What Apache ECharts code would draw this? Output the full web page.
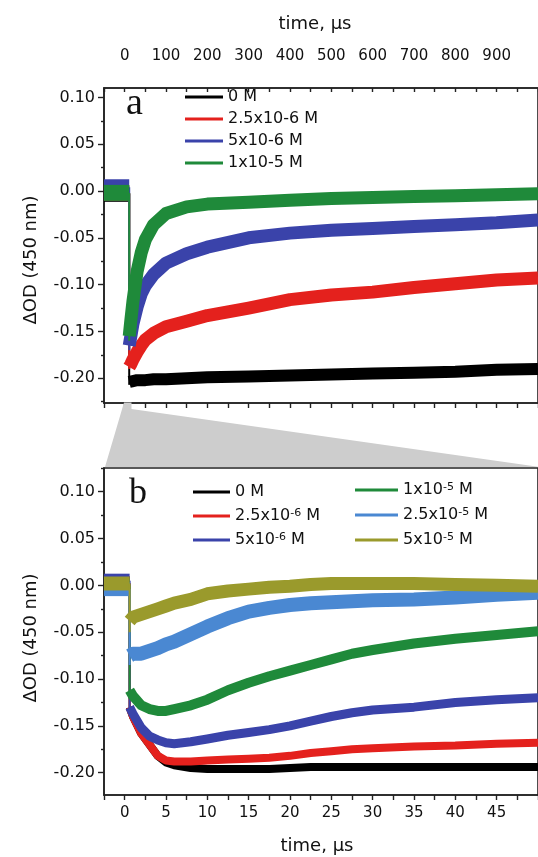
<!DOCTYPE html>
<html><head><meta charset="utf-8">
<script src="https://cdn.jsdelivr.net/npm/echarts@6/dist/echarts.min.js"></script>
<style>html,body{margin:0;padding:0;background:#fff}#c{width:538px;height:857px}</style>
</head><body><div id="c"></div>
<script>
// ---------- Panel a (0 – 1000 µs) ----------
const aNames = ['0 M', '2.5x10-6 M', '5x10-6 M', '1x10-5 M'];
const aTime = [11, 15, 20, 30, 40, 50, 70, 100, 150, 200, 300, 400, 500, 600, 700, 800, 900, 1000];
const aBlack = [-0.204, -0.204, -0.203, -0.202, -0.202, -0.202, -0.201, -0.201, -0.200, -0.199, -0.198, -0.197, -0.196, -0.195, -0.194, -0.193, -0.191, -0.190];
const aRed   = [-0.188, -0.185, -0.180, -0.172, -0.165, -0.159, -0.152, -0.145, -0.139, -0.133, -0.125, -0.116, -0.111, -0.108, -0.103, -0.099, -0.095, -0.093];
const aBlue  = [-0.165, -0.155, -0.142, -0.124, -0.110, -0.101, -0.089, -0.077, -0.067, -0.060, -0.050, -0.045, -0.042, -0.040, -0.038, -0.036, -0.034, -0.031];
const aGreen = [-0.155, -0.138, -0.118, -0.086, -0.066, -0.052, -0.036, -0.024, -0.017, -0.014, -0.012, -0.010, -0.008, -0.007, -0.006, -0.005, -0.004, -0.003];
const aPreTime = [-50, 11];
const aPreLevel = [-0.003, -0.002, 0.004, -0.002];
const aDropTime = 11;
const aDropBottom = [-0.207, -0.190, -0.170, -0.160];

// ---------- Panel b (0 – 50 µs) ----------
const bNames = ['0 M', '2.5x10-6 M', '5x10-6 M', '1x10-5 M', '2.5x10-5 M', '5x10-5 M'];
const bTime = [0.6, 1, 2, 3, 4, 5, 6, 8, 10, 12.5, 15, 17.5, 20, 22.5, 25, 27.5, 30, 35, 40, 45, 50];
const bBlack = [-0.130, -0.140, -0.158, -0.170, -0.182, -0.189, -0.192, -0.195, -0.196, -0.196, -0.196, -0.196, -0.195, -0.194, -0.194, -0.194, -0.194, -0.194, -0.194, -0.194, -0.194];
const bRed   = [-0.130, -0.140, -0.158, -0.170, -0.182, -0.187, -0.188, -0.188, -0.187, -0.186, -0.185, -0.184, -0.182, -0.179, -0.177, -0.175, -0.174, -0.172, -0.171, -0.169, -0.168];
const bBlue  = [-0.130, -0.137, -0.152, -0.161, -0.165, -0.168, -0.169, -0.167, -0.164, -0.160, -0.157, -0.154, -0.150, -0.145, -0.140, -0.136, -0.133, -0.130, -0.125, -0.122, -0.120];
const bGreen = [-0.112, -0.118, -0.128, -0.132, -0.134, -0.134, -0.132, -0.128, -0.122, -0.112, -0.104, -0.097, -0.091, -0.085, -0.079, -0.073, -0.069, -0.062, -0.057, -0.053, -0.049];
const bLtBlue = [-0.075, -0.073, -0.073, -0.070, -0.067, -0.063, -0.060, -0.052, -0.044, -0.035, -0.028, -0.024, -0.021, -0.019, -0.018, -0.017, -0.016, -0.015, -0.013, -0.010, -0.008];
const bOlive = [-0.038, -0.034, -0.031, -0.028, -0.025, -0.022, -0.019, -0.015, -0.009, -0.006, -0.004, -0.002, -0.001, 0.001, 0.002, 0.002, 0.002, 0.002, 0.001, 0.000, -0.001];
const bPreTime = [-2.5, 0.6];
const bPreLevel = [0.002, 0.002, 0.005, 0.000, -0.004, 0.002];
const bDropTime = 0.6;
const bDropBottom = [-0.130, -0.130, -0.135, -0.120, -0.085, -0.050];

// ---------- Ticks / labels ----------
const aXTicks = [-50, 0, 50, 100, 150, 200, 250, 300, 350, 400, 450, 500, 550, 600, 650, 700, 750, 800, 850, 900, 950, 1000];
const aXLabels = [0, 100, 200, 300, 400, 500, 600, 700, 800, 900];
const bXTicks = [-2.5, 0, 2.5, 5, 7.5, 10, 12.5, 15, 17.5, 20, 22.5, 25, 27.5, 30, 32.5, 35, 37.5, 40, 42.5, 45, 47.5, 50];
const bXLabels = [0, 5, 10, 15, 20, 25, 30, 35, 40, 45];
const yMajor = [-0.20, -0.15, -0.10, -0.05, 0.00, 0.05, 0.10];
const aYMinor = [-0.225, -0.175, -0.125, -0.075, -0.025, 0.025, 0.075];
const bYMinor = [-0.175, -0.125, -0.075, -0.025, 0.025, 0.075, 0.125];

// ---------- Styles ----------
const aColors = ['#000000', '#e4211d', '#3a43aa', '#1f8a3a'];
const aWidths = [12, 13, 13, 13];
const bColors = ['#000000', '#e4211d', '#3a43aa', '#1f8a3a', '#4a88d2', '#9a9a2c'];
const bWidths = [8, 8, 9, 10, 14, 13];
const FONT = 'DejaVu Sans';
const AX = '#222';

const aVals = [aBlack, aRed, aBlue, aGreen];
const bVals = [bBlack, bRed, bBlue, bGreen, bLtBlue, bOlive];

function lineSeries(name, data, color, width, xi, yi) {
  return {
    type: 'line', name: name, data: data, xAxisIndex: xi, yAxisIndex: yi,
    symbol: 'none', showSymbol: false, silent: true, animation: false,
    lineStyle: { color: color, width: width, join: 'round', cap: 'butt' },
    itemStyle: { color: color }, clip: true
  };
}

const series = [];
aNames.forEach((n, i) => {
  series.push(lineSeries(n, aPreTime.map(t => [t, aPreLevel[i]]), aColors[i], 16, 0, 0));
  series.push(lineSeries(n, [[aDropTime, aPreLevel[i]], [aDropTime, aDropBottom[i]]], aColors[i], 2, 0, 0));
  series.push(lineSeries(n, aTime.map((t, k) => [t, aVals[i][k]]), aColors[i], aWidths[i], 0, 0));
});
bNames.forEach((n, i) => {
  series.push(lineSeries(n, bPreTime.map(t => [t, bPreLevel[i]]), bColors[i], 14, 2, 2));
  series.push(lineSeries(n, [[bDropTime, bPreLevel[i]], [bDropTime, bDropBottom[i]]], bColors[i], 2, 2, 2));
  series.push(lineSeries(n, bTime.map((t, k) => [t, bVals[i][k]]), bColors[i], bWidths[i], 2, 2));
});

const labelStyleX = { color: '#111', fontFamily: FONT, fontSize: 15 };
const labelStyleY = { color: '#111', fontFamily: FONT, fontSize: 16, formatter: v => v.toFixed(2) };

function supFmt(name) { return name.replace(/x10(-\d)/, 'x10{sup|$1}'); }

const legendText = { fontFamily: FONT, fontSize: 16, color: '#111', lineHeight: 16,
  rich: { sup: { fontFamily: FONT, fontSize: 11, color: '#111', verticalAlign: 'top', lineHeight: 16 } } };

const axLine = { show: true, onZero: false, lineStyle: { color: AX, width: 1.6 } };
const noLine = { show: false, onZero: false };

const option = {
  backgroundColor: '#ffffff',
  animation: false,
  grid: [
    { left: 104, top: 88, width: 445, height: 315, show: true, borderColor: AX, borderWidth: 1.6, backgroundColor: 'transparent' },
    { left: 104, top: 468, width: 445, height: 327, show: true, borderColor: AX, borderWidth: 1.6, backgroundColor: 'transparent' }
  ],
  xAxis: [
    { type: 'value', gridIndex: 0, position: 'top', min: -50, max: 1000, axisLine: axLine,
      axisTick: { show: true, inside: true, length: 4, customValues: aXTicks, lineStyle: { color: AX, width: 1.4 } },
      axisLabel: { show: true, margin: 24, customValues: aXLabels, ...labelStyleX },
      splitLine: { show: false } },
    { type: 'value', gridIndex: 0, position: 'bottom', min: -50, max: 1000, axisLine: axLine,
      axisTick: { show: true, inside: false, length: 5, customValues: aXTicks, lineStyle: { color: AX, width: 1.4 } },
      axisLabel: { show: false }, splitLine: { show: false } },
    { type: 'value', gridIndex: 1, position: 'bottom', min: -2.5, max: 50, axisLine: axLine,
      axisTick: { show: true, inside: false, length: 5, customValues: bXTicks, lineStyle: { color: AX, width: 1.4 } },
      axisLabel: { show: true, margin: 11, customValues: bXLabels, ...labelStyleX },
      splitLine: { show: false } }
  ],
  yAxis: [
    { type: 'value', gridIndex: 0, position: 'left', min: -0.2264, max: 0.110, axisLine: axLine,
      axisTick: { show: true, inside: false, length: 6, customValues: yMajor, lineStyle: { color: AX, width: 1.4 } },
      axisLabel: { show: true, margin: 9, customValues: yMajor, ...labelStyleY },
      splitLine: { show: false } },
    { type: 'value', gridIndex: 0, position: 'left', min: -0.2264, max: 0.110, axisLine: noLine,
      axisTick: { show: true, inside: false, length: 3, customValues: aYMinor, lineStyle: { color: AX, width: 1.4 } },
      axisLabel: { show: false }, splitLine: { show: false } },
    { type: 'value', gridIndex: 1, position: 'left', min: -0.2238, max: 0.1253, axisLine: axLine,
      axisTick: { show: true, inside: false, length: 6, customValues: yMajor, lineStyle: { color: AX, width: 1.4 } },
      axisLabel: { show: true, margin: 9, customValues: yMajor, ...labelStyleY },
      splitLine: { show: false } },
    { type: 'value', gridIndex: 1, position: 'left', min: -0.2238, max: 0.1253, axisLine: noLine,
      axisTick: { show: true, inside: false, length: 3, customValues: bYMinor, lineStyle: { color: AX, width: 1.4 } },
      axisLabel: { show: false }, splitLine: { show: false } }
  ],
  legend: [
    { data: aNames, orient: 'vertical', left: 185, top: 89, padding: 0, itemGap: 6,
      itemWidth: 38, itemHeight: 3, icon: 'rect', selectedMode: false,
      itemStyle: { borderWidth: 0 }, textStyle: legendText },
    { data: bNames.slice(0, 3), orient: 'vertical', left: 193, top: 484, padding: 0, itemGap: 8,
      itemWidth: 37, itemHeight: 3, icon: 'rect', selectedMode: false, formatter: supFmt,
      itemStyle: { borderWidth: 0 }, textStyle: legendText },
    { data: bNames.slice(3), orient: 'vertical', left: 355, top: 482, padding: 0, itemGap: 9,
      itemWidth: 43, itemHeight: 3, icon: 'rect', selectedMode: false, formatter: supFmt,
      itemStyle: { borderWidth: 0 }, textStyle: legendText }
  ],
  graphic: [
    { type: 'polygon', z: 100, silent: true,
      shape: { points: [[124, 402.5], [131.5, 402.5], [131.5, 409], [540, 467], [105, 467]] },
      style: { fill: '#cdcdcd' } },
    { type: 'text', x: 315, y: 24, silent: true,
      style: { text: 'time, μs', fill: '#111', fontFamily: FONT, fontSize: 18, align: 'center', verticalAlign: 'middle', textAlign: 'center', textVerticalAlign: 'middle' } },
    { type: 'text', x: 317, y: 846, silent: true,
      style: { text: 'time, μs', fill: '#111', fontFamily: FONT, fontSize: 18, align: 'center', verticalAlign: 'middle', textAlign: 'center', textVerticalAlign: 'middle' } },
    { type: 'text', x: 31, y: 260, rotation: Math.PI / 2, silent: true,
      style: { text: 'ΔOD (450 nm)', fill: '#111', fontFamily: FONT, fontSize: 18, align: 'center', verticalAlign: 'middle', textAlign: 'center', textVerticalAlign: 'middle' } },
    { type: 'text', x: 31, y: 638, rotation: Math.PI / 2, silent: true,
      style: { text: 'ΔOD (450 nm)', fill: '#111', fontFamily: FONT, fontSize: 18, align: 'center', verticalAlign: 'middle', textAlign: 'center', textVerticalAlign: 'middle' } },
    { type: 'text', x: 126, y: 104, silent: true, z: 50,
      style: { text: 'a', fill: '#111', fontFamily: 'Liberation Serif', fontSize: 38, align: 'left', verticalAlign: 'middle', textAlign: 'left', textVerticalAlign: 'middle' } },
    { type: 'text', x: 129, y: 494, silent: true, z: 50,
      style: { text: 'b', fill: '#111', fontFamily: 'Liberation Serif', fontSize: 36, align: 'left', verticalAlign: 'middle', textAlign: 'left', textVerticalAlign: 'middle' } }
  ],
  series: series
};

const chart = echarts.init(document.getElementById('c'), null, { renderer: 'canvas' });
chart.setOption(option);
</script>
</body></html>
